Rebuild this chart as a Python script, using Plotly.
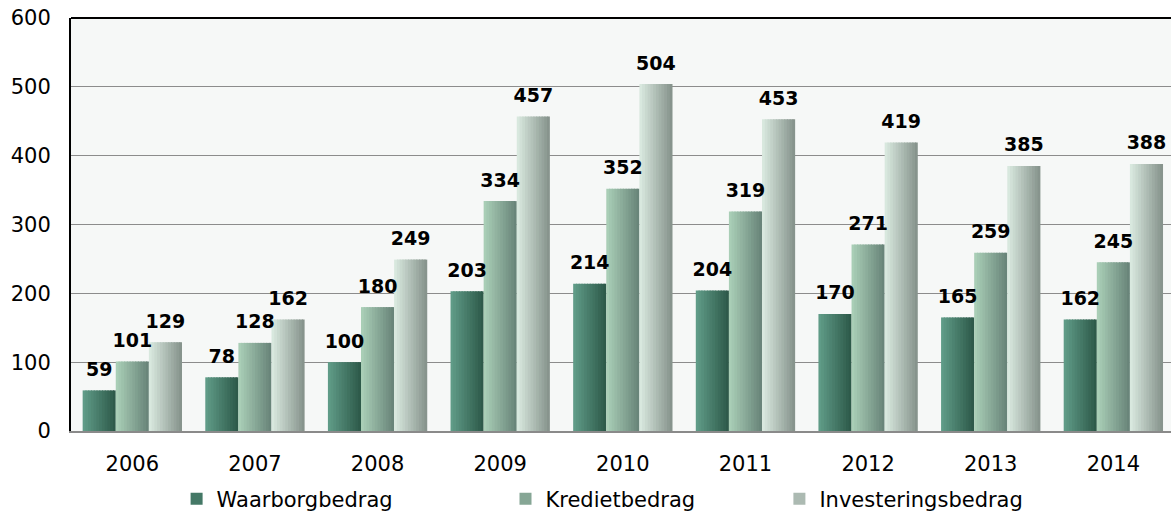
import plotly.graph_objects as go

# Gegevens (miljoen euro)
years = ['2006', '2007', '2008', '2009', '2010', '2011', '2012', '2013', '2014']
waarborg = [59, 78, 100, 203, 214, 204, 170, 165, 162]
krediet = [101, 128, 180, 334, 352, 319, 271, 259, 245]
investering = [129, 162, 249, 457, 504, 453, 419, 385, 388]

FONT = 'DejaVu Sans'


def mix(c1, c2, t):
    a = [int(c1[i:i + 2], 16) for i in (1, 3, 5)]
    b = [int(c2[i:i + 2], 16) for i in (1, 3, 5)]
    return 'rgb(%d,%d,%d)' % tuple(round(a[j] + (b[j] - a[j]) * t) for j in range(3))


# naam, waarden, kleur links, kleur rechts, legenda
series = [
    ('Waarborgbedrag', waarborg, '#5f9b87', '#2e5a4a', 'legend'),
    ('Kredietbedrag', krediet, '#a9ceb6', '#69857a', 'legend2'),
    ('Investeringsbedrag', investering, '#d8e8de', '#87948d', 'legend3'),
]

fig = go.Figure()

n_strips = 12
bar_w = 0.27
x_idx = list(range(len(years)))

for s, (name, vals, c_left, c_right, leg) in enumerate(series):
    base = -1.5 * bar_w + s * bar_w
    strip = bar_w / n_strips
    # verloop nabootsen met smalle stroken
    for k in range(n_strips):
        w = strip if k == n_strips - 1 else strip * 1.4
        fig.add_trace(go.Bar(
            x=x_idx, y=vals, width=w, offset=base + k * strip,
            marker=dict(color=mix(c_left, c_right, k / (n_strips - 1)), line=dict(width=0)),
            name=name, legend=leg, showlegend=(k == n_strips // 2),
            hoverinfo='skip'
        ))
    # labels boven de staven
    fig.add_trace(go.Scatter(
        x=[i + base + bar_w / 2 for i in x_idx], y=vals,
        mode='markers+text', text=[str(v) for v in vals],
        textposition='top center',
        textfont=dict(family=FONT, size=19, color='black', weight='bold'),
        marker=dict(size=14, opacity=0),
        showlegend=False, hoverinfo='skip', cliponaxis=False
    ))

legend_style = dict(orientation='h', yref='container', yanchor='middle', y=0.031,
                    xanchor='left', font=dict(family=FONT, size=21, color='black'),
                    bgcolor='rgba(0,0,0,0)')

fig.update_layout(
    width=1171, height=515,
    margin=dict(l=71, r=0, t=18, b=84),
    barmode='overlay',
    plot_bgcolor='#f6f8f7',
    paper_bgcolor='white',
    font=dict(family=FONT, size=21, color='black'),
    legend=dict(legend_style, x=0.096),
    legend2=dict(legend_style, x=0.395),
    legend3=dict(legend_style, x=0.644),
    xaxis=dict(
        tickmode='array', tickvals=x_idx, ticktext=years,
        range=[-0.5, 8.47], showgrid=False, zeroline=False,
        showline=True, linecolor='#8a8a8a', linewidth=2,
        ticklabelstandoff=13, tickfont=dict(size=21)
    ),
    yaxis=dict(
        range=[0, 600], dtick=100, showgrid=True, gridcolor='#8c8c8c', gridwidth=1,
        zeroline=False, showline=True, linecolor='black', linewidth=2,
        ticklabelstandoff=14, tickfont=dict(size=21)
    ),
    shapes=[dict(type='line', xref='paper', yref='paper', x0=0, x1=1, y0=1, y1=1,
                 line=dict(color='black', width=2))],
)

# standaardmarge van de pagina weghalen zodat de figuur het venster vult
fig.write_html("out.html", config={'displayModeBar': False},
               post_script="document.body.style.margin='0';")
